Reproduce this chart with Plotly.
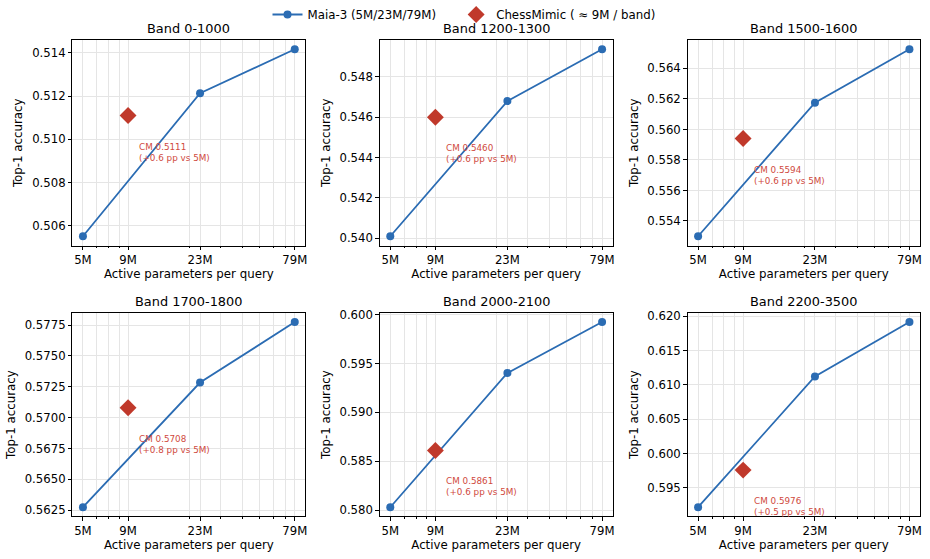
import math
import plotly.graph_objects as go
from plotly.subplots import make_subplots

# ---- data ----
bands = ["Band 0-1000", "Band 1200-1300", "Band 1500-1600",
         "Band 1700-1800", "Band 2000-2100", "Band 2200-3500"]
maia_params = [5, 23, 79]          # millions
cm_params = 9                      # millions
maia_acc = [
    [0.50552, 0.51213, 0.51416],
    [0.54010, 0.54680, 0.54937],
    [0.55300, 0.56175, 0.56525],
    [0.56274, 0.57284, 0.57774],
    [0.58030, 0.59402, 0.59923],
    [0.59220, 0.61121, 0.61913],
]
cm_acc = [0.5111, 0.5460, 0.5594, 0.5708, 0.5861, 0.5976]
cm_gain_pp = [0.6, 0.6, 0.6, 0.8, 0.6, 0.5]
ytick_step = [0.002, 0.002, 0.002, 0.0025, 0.005, 0.005]
ytick_fmt = [".3f", ".3f", ".3f", ".4f", ".3f", ".3f"]
xtick_vals = [5, 9, 23, 79]
xtick_text = ["5M", "9M", "23M", "79M"]
minor_x = [6, 7, 8, 20, 30, 40, 50, 60, 70]

BLUE = "#2b6cb3"
RED = "#c0392b"
TXT_RED = "#d04a3e"
FONT = "DejaVu Sans"
W, H = 930, 559
TOP = 30
PH = H - TOP

fig = make_subplots(rows=2, cols=3)

xdom = [(72.5 / W, 306 / W), (380.5 / W, 614 / W), (689 / W, 922 / W)]
ydom = [((H - 243) / PH, (H - 35) / PH), ((H - 517) / PH, (H - 311) / PH)]

xr = [math.log10(5) - 0.06, math.log10(79) + 0.06]

for i in range(6):
    r, c = i // 3 + 1, i % 3 + 1
    idx = i + 1
    fig.add_trace(go.Scatter(
        x=maia_params, y=maia_acc[i], mode="lines+markers",
        line=dict(color=BLUE, width=1.8),
        marker=dict(color=BLUE, size=8),
        name="Maia-3 (5M/23M/79M)&nbsp;&nbsp;&nbsp;&nbsp;", showlegend=(i == 0), legendgroup="m"),
        row=r, col=c)
    fig.add_trace(go.Scatter(
        x=[cm_params], y=[cm_acc[i]], mode="markers",
        marker=dict(color=RED, size=13, symbol="diamond"),
        name="ChessMimic ( \u2248 9M / band)", showlegend=(i == 0), legendgroup="c"),
        row=r, col=c)
    vals = maia_acc[i] + [cm_acc[i]]
    lo, hi = min(vals), max(vals)
    pad = (hi - lo) * 0.05
    xa = "xaxis" if idx == 1 else f"xaxis{idx}"
    ya = "yaxis" if idx == 1 else f"yaxis{idx}"
    fig.layout[xa].update(
        domain=xdom[c - 1], type="log", range=xr,
        tickmode="array", tickvals=xtick_vals, ticktext=xtick_text,
        ticks="outside", ticklen=3.5, tickwidth=0.8, tickcolor="black",
        showline=True, mirror=True, linecolor="black", linewidth=0.8,
        showgrid=True, gridcolor="#e5e5e5", gridwidth=0.8, zeroline=False,
        minor=dict(tickmode="array", tickvals=minor_x, ticks="outside", ticklen=2,
                   tickwidth=0.6, tickcolor="black", showgrid=True,
                   gridcolor="#e5e5e5", gridwidth=0.8),
        tickfont=dict(family=FONT, size=11.7, color="black"),
        title=dict(text="Active parameters per query", standoff=2,
                   font=dict(family=FONT, size=11.8, color="black")),
    )
    fig.layout[ya].update(
        domain=ydom[r - 1], range=[lo - pad, hi + pad],
        tick0=0, dtick=ytick_step[i], tickformat=ytick_fmt[i],
        ticks="outside", ticklen=3.5, tickwidth=0.8, tickcolor="black",
        showline=True, mirror=True, linecolor="black", linewidth=0.8,
        showgrid=True, gridcolor="#e5e5e5", gridwidth=0.8, zeroline=False,
        tickfont=dict(family=FONT, size=11.7, color="black"),
        title=dict(text="Top-1 accuracy", standoff=6,
                   font=dict(family=FONT, size=11.8, color="black")),
    )
    xref = "x" if idx == 1 else f"x{idx}"
    yref = "y" if idx == 1 else f"y{idx}"
    fig.add_annotation(
        x=math.log10(cm_params), y=cm_acc[i], xref=xref, yref=yref,
        text=f"CM {cm_acc[i]:.4f}<br>(+{cm_gain_pp[i]:.1f} pp vs 5M)",
        showarrow=False, xanchor="left", yanchor="top", align="left",
        xshift=9, yshift=-24,
        font=dict(family=FONT, size=8.8, color=TXT_RED))
    fig.add_annotation(
        x=0.5, y=1, xref=f"{xref} domain", yref=f"{yref} domain",
        text=bands[i], showarrow=False, xanchor="center", yanchor="bottom",
        yshift=2, font=dict(family=FONT, size=12.9, color="black"))

fig.update_layout(
    width=W, height=H, margin=dict(l=0, r=0, t=TOP, b=0),
    plot_bgcolor="white", paper_bgcolor="white",
    font=dict(family=FONT, color="black"),
    legend=dict(orientation="h", x=0.5, xanchor="center", y=1 + (TOP - 9) / PH,
                yanchor="middle", font=dict(family=FONT, size=11.8),
                bgcolor="rgba(0,0,0,0)", itemwidth=30, tracegroupgap=0),
)

fig.write_html("out.html")
